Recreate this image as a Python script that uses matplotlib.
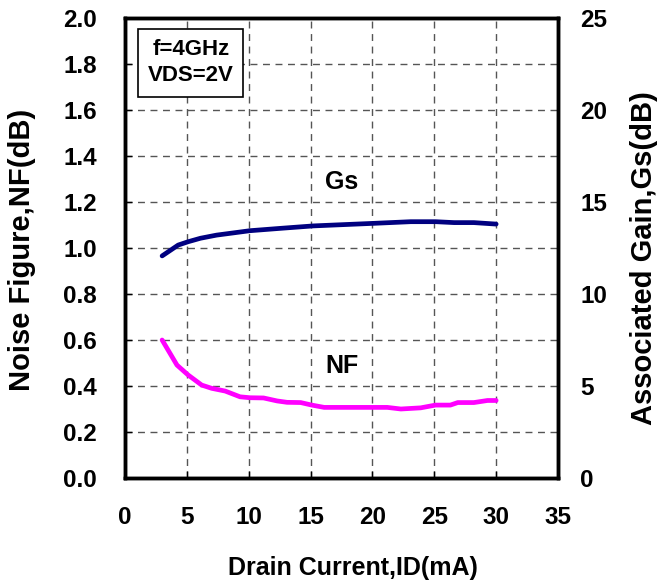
import matplotlib
matplotlib.use("Agg")
import matplotlib.pyplot as plt
from matplotlib.patches import Rectangle

plt.rcParams['font.family'] = ['Liberation Sans', 'DejaVu Sans']
plt.rcParams['font.weight'] = 'bold'

# Data
gs_x = [3.0, 4.3, 5.1, 6.1, 7.4, 10.1, 12.6, 15.2, 20.1, 23.1, 25.1, 26.6, 28.2, 30.0]
gs_y = [12.07, 12.66, 12.84, 13.03, 13.2, 13.44, 13.57, 13.7, 13.84, 13.93, 13.93, 13.88, 13.88, 13.8]

nf_x = [3.0, 4.2, 5.1, 6.2, 7.0, 8.1, 9.3, 10.1, 11.2, 12.3, 13.1, 14.2, 15.1, 16.1,
        18.5, 21.2, 22.3, 23.9, 25.1, 26.3, 26.9, 28.2, 29.3, 30.0]
nf_y = [0.600, 0.491, 0.448, 0.404, 0.390, 0.378, 0.353, 0.349, 0.348, 0.335, 0.329,
        0.328, 0.317, 0.307, 0.307, 0.307, 0.300, 0.305, 0.317, 0.317, 0.328, 0.328,
        0.337, 0.337]

x_ticks = [0, 5, 10, 15, 20, 25, 30, 35]
nf_ticks = [0.0, 0.2, 0.4, 0.6, 0.8, 1.0, 1.2, 1.4, 1.6, 1.8, 2.0]
gs_ticks = [0, 5, 10, 15, 20, 25]

fig = plt.figure(figsize=(6.61, 5.82), dpi=100)
ax = fig.add_axes([125/661, 1-478/582, (558-125)/661, (478-18)/582])
ax2 = ax.twinx()

ax.set_xlim(0, 35)
ax.set_ylim(0, 2.0)
ax2.set_ylim(0, 25)

ax.set_xticks(x_ticks)
ax.set_yticks(nf_ticks)
ax.set_yticklabels([f"{v:.1f}" for v in nf_ticks])
ax2.set_yticks(gs_ticks)

ax.grid(True, color='#555555', linestyle=(0, (5, 4)), linewidth=1.0)
ax.set_axisbelow(True)

fs = 17.5
ax.tick_params(axis='both', direction='in', length=5, width=1, labelsize=fs)
ax.tick_params(axis='y', pad=20)
ax.tick_params(axis='x', pad=20)
ax2.tick_params(axis='y', direction='in', length=0, labelsize=fs, pad=16)
for lab in ax.get_xticklabels() + ax.get_yticklabels() + ax2.get_yticklabels():
    lab.set_fontweight('bold')

for a in (ax, ax2):
    for s in a.spines.values():
        s.set_linewidth(2.5)
        s.set_color('black')

ax2.plot(gs_x, gs_y, color='#000080', linewidth=3.4, solid_capstyle='round')
ax.plot(nf_x, nf_y, color='#FF00FF', linewidth=3.4, solid_capstyle='round')

ax.text(17.55, 1.288, 'Gs', fontsize=18, fontweight='bold', ha='center', va='center')
ax.text(17.55, 0.487, 'NF', fontsize=18, fontweight='bold', ha='center', va='center')

ax.add_patch(Rectangle((1.05, 1.657), 8.51, 0.295, facecolor='white', edgecolor='black',
                       linewidth=1.2, zorder=5))
ax.text(5.31, 1.865, 'f=4GHz', fontsize=16, fontweight='bold', ha='center', va='center', zorder=6)
ax.text(5.31, 1.752, 'VDS=2V', fontsize=16, fontweight='bold', ha='center', va='center', zorder=6)

fig.text(353/661, 1-568/582, 'Drain Current,ID(mA)', fontsize=18, fontweight='bold', ha='center', va='center')
fig.text(22/661, 1-250/582, 'Noise Figure,NF(dB)', fontsize=21, fontweight='bold', ha='center', va='center', rotation=90)
fig.text(644/661, 1-258/582, 'Associated Gain,Gs(dB)', fontsize=21, fontweight='bold', ha='center', va='center', rotation=90)

fig.savefig('out.png', dpi=100)
